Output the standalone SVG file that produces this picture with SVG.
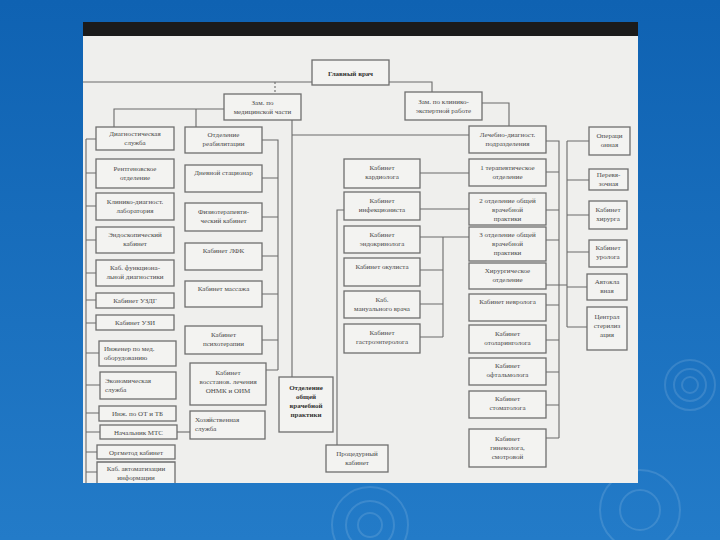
<svg xmlns="http://www.w3.org/2000/svg" width="720" height="540" viewBox="0 0 720 540">
<defs>
<linearGradient id="bg" x1="0" y1="0" x2="0" y2="1">
<stop offset="0" stop-color="#0f62b2"/>
<stop offset="1" stop-color="#237bc8"/>
</linearGradient>
<style>
.b{fill:#f3f3f1;stroke:#6e6e6e;stroke-width:1.3}
.t{font-family:"Liberation Serif","Times New Roman",serif;font-size:7px;fill:#4a4a4a;text-anchor:middle}
.tl{text-anchor:start}
.bd{font-weight:bold;fill:#333}
.c{fill:none;stroke:#6a6a6a;stroke-width:1.1}
.r{fill:none;stroke:#ffffff;stroke-opacity:0.12;stroke-width:2}
</style>
</defs>
<rect width="720" height="540" fill="url(#bg)"/>
<g id="ripples">
<circle class="r" cx="690" cy="385" r="8"/><circle class="r" cx="690" cy="385" r="16"/><circle class="r" cx="690" cy="385" r="25"/>
<circle class="r" cx="370" cy="525" r="12"/><circle class="r" cx="370" cy="525" r="24"/><circle class="r" cx="370" cy="525" r="38"/>
<circle class="r" cx="640" cy="510" r="20"/><circle class="r" cx="640" cy="510" r="40"/>
</g>
<rect x="83" y="22" width="555" height="461" fill="#efefed"/>
<rect x="83" y="22" width="555" height="14" fill="#1b1b1b"/>

<g id="connectors">
<path class="c" d="M83 82 H312"/>
<path class="c" d="M275 82 V94" stroke-dasharray="2 2"/>
<path class="c" d="M389 82 H432 V92"/>
<path class="c" d="M224 109 H114 V127 M196 109 V127"/>
<path class="c" d="M292 120 V377 M292 135 H469"/>
<path class="c" d="M482 103 H509 V126"/>
<path class="c" d="M86 139 V483 M86 139 H96 M86 173 H96 M86 206 H96 M86 240 H96 M86 273 H96 M86 300 H96 M86 323 H96 M86 353 H99 M86 385 H100 M86 413 H99 M86 432 H100 M86 452 H97 M86 472 H97"/>
<path class="c" d="M262 140 H278 V370 M262 178 H278 M262 217 H278 M262 256 H278 M262 294 H278 M262 340 H278 M266 370 H278"/>
<path class="c" d="M177 432 H190"/>
<path class="c" d="M420 173 H469 M420 209 H469 M420 237 H469 M443 237 V337 M420 270 H443 M420 304 H443 M420 337 H443"/>
<path class="c" d="M344 210 H337 V445"/>
<path class="c" d="M546 141 H559 V438 M546 172 H559 M546 210 H559 M546 240 H559 M546 305 H559 M546 340 H559 M546 372 H559 M546 405 H559 M546 438 H559"/>
<path class="c" d="M546 285 H567 M567 141 V327 M567 141 H589 M567 180 H589 M567 215 H589 M567 252 H589 M567 287 H587 M567 327 H587"/>
</g>

<g id="main"><rect class="b" x="312" y="60" width="77" height="25" stroke-width="1.6"/><text class="t bd" x="350.5" y="75.5" font-size="9">Главный врач</text></g>
<g id="zam_med"><rect class="b" x="224" y="94" width="77" height="26"/><text class="t" x="262.5" y="105">Зам. по</text><text class="t" x="262.5" y="114">медицинской части</text></g>
<g id="zam_kl"><rect class="b" x="405" y="92" width="77" height="28"/><text class="t" x="443.5" y="104">Зам. по клинико-</text><text class="t" x="443.5" y="113">экспертной работе</text></g>

<g id="d1"><rect class="b" x="96" y="127" width="78" height="23"/><text class="t" x="135" y="136">Диагностическая</text><text class="t" x="135" y="145">служба</text></g>
<g id="d2"><rect class="b" x="96" y="159" width="78" height="29"/><text class="t" x="135" y="171">Рентгеновское</text><text class="t" x="135" y="180">отделение</text></g>
<g id="d3"><rect class="b" x="96" y="193" width="78" height="27"/><text class="t" x="135" y="204">Клинико-диагност.</text><text class="t" x="135" y="213">лаборатория</text></g>
<g id="d4"><rect class="b" x="96" y="227" width="78" height="26"/><text class="t" x="135" y="237">Эндоскопический</text><text class="t" x="135" y="246">кабинет</text></g>
<g id="d5"><rect class="b" x="96" y="260" width="78" height="26"/><text class="t" x="135" y="270">Каб. функциона-</text><text class="t" x="135" y="279">льной диагностики</text></g>
<g id="d6"><rect class="b" x="96" y="293" width="78" height="15"/><text class="t" x="135" y="303">Кабинет УЗДГ</text></g>
<g id="d7"><rect class="b" x="96" y="315" width="78" height="15"/><text class="t" x="135" y="325">Кабинет УЗИ</text></g>
<g id="a1"><rect class="b" x="99" y="341" width="77" height="25"/><text class="t tl" x="104" y="351">Инженер по мед.</text><text class="t tl" x="104" y="360">оборудованию</text></g>
<g id="a2"><rect class="b" x="100" y="372" width="76" height="27"/><text class="t tl" x="105" y="383">Экономическая</text><text class="t tl" x="105" y="392">служба</text></g>
<g id="a3"><rect class="b" x="99" y="406" width="77" height="15"/><text class="t" x="137.5" y="416">Инж. по ОТ и ТБ</text></g>
<g id="a4"><rect class="b" x="100" y="425" width="77" height="14"/><text class="t" x="138.5" y="435">Начальник МТС</text></g>
<g id="a5"><rect class="b" x="97" y="445" width="78" height="14"/><text class="t" x="136" y="455">Оргметод кабинет</text></g>
<g id="a6"><path class="b" d="M97 483 V462 H175 V483"/><text class="t" x="136" y="471">Каб. автоматизации</text><text class="t" x="136" y="480">информации</text></g>

<g id="r1"><rect class="b" x="185" y="127" width="77" height="26"/><text class="t" x="223.5" y="137">Отделение</text><text class="t" x="223.5" y="146">реабилитации</text></g>
<g id="r2"><rect class="b" x="185" y="165" width="77" height="27"/><text class="t" x="223.5" y="175">Дневной стационар</text></g>
<g id="r3"><rect class="b" x="185" y="203" width="77" height="28"/><text class="t" x="223.5" y="214">Физиотерапевти-</text><text class="t" x="223.5" y="223">ческий кабинет</text></g>
<g id="r4"><rect class="b" x="185" y="243" width="77" height="27"/><text class="t" x="223.5" y="253">Кабинет ЛФК</text></g>
<g id="r5"><rect class="b" x="185" y="281" width="77" height="26"/><text class="t" x="223.5" y="291">Кабинет массажа</text></g>
<g id="r6"><rect class="b" x="185" y="326" width="77" height="28"/><text class="t" x="223.5" y="337">Кабинет</text><text class="t" x="223.5" y="346">психотерапии</text></g>
<g id="r7"><rect class="b" x="190" y="363" width="76" height="42"/><text class="t" x="228" y="375">Кабинет</text><text class="t" x="228" y="384">восстанов. лечения</text><text class="t" x="228" y="393">ОНМК и ОИМ</text></g>
<g id="r8"><rect class="b" x="190" y="411" width="75" height="28"/><text class="t tl" x="195" y="422">Хозяйственная</text><text class="t tl" x="195" y="431">служба</text></g>
<g id="ogvp"><rect class="b" x="279" y="377" width="54" height="55"/><text class="t bd" x="306" y="390">Отделение</text><text class="t bd" x="306" y="399">общей</text><text class="t bd" x="306" y="408">врачебной</text><text class="t bd" x="306" y="417">практики</text></g>

<g id="m1"><rect class="b" x="344" y="159" width="76" height="29"/><text class="t" x="382" y="170">Кабинет</text><text class="t" x="382" y="179">кардиолога</text></g>
<g id="m2"><rect class="b" x="344" y="192" width="76" height="28"/><text class="t" x="382" y="203">Кабинет</text><text class="t" x="382" y="212">инфекциониста</text></g>
<g id="m3"><rect class="b" x="344" y="226" width="76" height="27"/><text class="t" x="382" y="237">Кабинет</text><text class="t" x="382" y="246">эндокринолога</text></g>
<g id="m4"><rect class="b" x="344" y="258" width="76" height="28"/><text class="t" x="382" y="269">Кабинет окулиста</text></g>
<g id="m5"><rect class="b" x="344" y="291" width="76" height="27"/><text class="t" x="382" y="302">Каб.</text><text class="t" x="382" y="311">мануального врача</text></g>
<g id="m6"><rect class="b" x="344" y="324" width="76" height="29"/><text class="t" x="382" y="335">Кабинет</text><text class="t" x="382" y="344">гастроэнтеролога</text></g>
<g id="proc"><rect class="b" x="326" y="445" width="62" height="27"/><text class="t" x="357" y="456">Процедурный</text><text class="t" x="357" y="465">кабинет</text></g>

<g id="l0"><rect class="b" x="469" y="126" width="77" height="27" stroke-width="1.6"/><text class="t" x="507.5" y="137">Лечебно-диагност.</text><text class="t" x="507.5" y="146">подразделения</text></g>
<g id="l1"><rect class="b" x="469" y="159" width="77" height="27"/><text class="t" x="507.5" y="170">1 терапевтическое</text><text class="t" x="507.5" y="179">отделение</text></g>
<g id="l2"><rect class="b" x="469" y="193" width="77" height="32"/><text class="t" x="507.5" y="203">2 отделение общей</text><text class="t" x="507.5" y="212">врачебной</text><text class="t" x="507.5" y="221">практики</text></g>
<g id="l3"><rect class="b" x="469" y="227" width="77" height="34"/><text class="t" x="507.5" y="237">3 отделение общей</text><text class="t" x="507.5" y="246">врачебной</text><text class="t" x="507.5" y="255">практики</text></g>
<g id="l4"><rect class="b" x="469" y="263" width="77" height="26"/><text class="t" x="507.5" y="273">Хирургическое</text><text class="t" x="507.5" y="282">отделение</text></g>
<g id="l5"><rect class="b" x="469" y="294" width="77" height="27"/><text class="t" x="507.5" y="304">Кабинет невролога</text></g>
<g id="l6"><rect class="b" x="469" y="325" width="77" height="28"/><text class="t" x="507.5" y="336">Кабинет</text><text class="t" x="507.5" y="345">отоларинголога</text></g>
<g id="l7"><rect class="b" x="469" y="358" width="77" height="27"/><text class="t" x="507.5" y="368">Кабинет</text><text class="t" x="507.5" y="377">офтальмолога</text></g>
<g id="l8"><rect class="b" x="469" y="391" width="77" height="27"/><text class="t" x="507.5" y="401">Кабинет</text><text class="t" x="507.5" y="410">стоматолога</text></g>
<g id="l9"><rect class="b" x="469" y="429" width="77" height="38"/><text class="t" x="507.5" y="441">Кабинет</text><text class="t" x="507.5" y="450">гинеколога,</text><text class="t" x="507.5" y="459">смотровой</text></g>

<g id="s1"><rect class="b" x="589" y="127" width="41" height="28"/><text class="t" x="609.5" y="138">Операци</text><text class="t" x="609.5" y="147">онная</text></g>
<g id="s2"><rect class="b" x="589" y="169" width="39" height="21"/><text class="t" x="608.5" y="177">Перевя-</text><text class="t" x="608.5" y="186">зочная</text></g>
<g id="s3"><rect class="b" x="589" y="201" width="38" height="28"/><text class="t" x="608" y="212">Кабинет</text><text class="t" x="608" y="221">хирурга</text></g>
<g id="s4"><rect class="b" x="589" y="240" width="38" height="27"/><text class="t" x="608" y="250">Кабинет</text><text class="t" x="608" y="259">уролога</text></g>
<g id="s5"><rect class="b" x="587" y="274" width="40" height="26"/><text class="t" x="607" y="284">Автокла</text><text class="t" x="607" y="293">вная</text></g>
<g id="s6"><rect class="b" x="587" y="307" width="40" height="43"/><text class="t" x="607" y="319">Централ</text><text class="t" x="607" y="328">стерилиз</text><text class="t" x="607" y="337">ация</text></g>
</svg>
